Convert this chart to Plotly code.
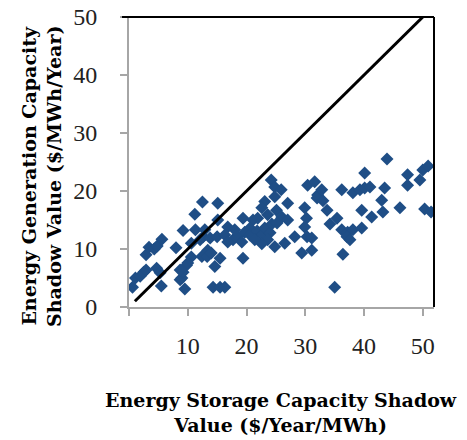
import plotly.graph_objects as go

# Energy Storage Capacity Shadow Value ($/Year/MWh)
storage_value = [
    0.6, 1.1, 1.9, 2.5, 2.9, 2.9, 3.4, 4.3, 4.8, 5.6, 4.7, 5.3, 5.5, 8.0, 9.2,
    11.2, 12.5, 9.5, 8.7, 9.0, 9.2, 9.8, 10.6, 10.6, 11.3, 12.1, 12.4, 10.0, 8.7,
    12.9, 13.4, 13.3, 14.6, 15.5, 15.1, 15.1, 16.8, 14.3, 15.5, 16.3, 14.0,
    19.4, 21.1, 20.6, 19.4, 24.2, 24.8, 23.1, 22.6, 23.6, 21.9, 25.1, 24.8,
    12.6, 13.8, 15.0, 16.3, 17.7, 18.5, 19.7, 20.6, 21.8, 22.6, 23.1, 24.0,
    18.0, 19.2, 16.8, 23.6, 24.3, 22.6, 21.4,
    25.9, 24.8, 27.0, 29.9, 30.2, 26.0, 27.0, 25.2, 29.9, 28.2, 30.3, 31.1,
    26.5, 29.4, 31.1, 30.4, 31.6, 32.1, 32.8, 32.0, 33.0, 33.7, 36.2, 38.1,
    34.2, 35.4, 36.2, 37.2, 38.1, 36.4, 35.0,
    43.9, 40.1, 39.3, 40.1, 41.0, 43.5, 43.0, 39.6, 41.3, 43.2, 46.1, 47.4,
    47.4, 49.5, 50.0, 50.9, 50.3, 51.4, 39.6, 37.1, 37.6,
]
# Energy Generation Capacity Shadow Value ($/MWh/Year)
generation_value = [
    3.4, 5.0, 5.3, 6.0, 6.4, 9.0, 10.3, 10.0, 10.5, 11.7, 6.7, 5.9, 3.6, 10.2, 13.2,
    16.0, 18.1, 3.1, 4.7, 5.0, 6.0, 7.2, 11.0, 8.6, 13.3, 11.6, 8.7, 7.6, 6.4,
    13.3, 9.8, 8.7, 7.0, 8.4, 15.0, 17.9, 13.8, 3.4, 3.4, 3.4, 9.3,
    15.3, 15.0, 13.6, 8.4, 21.9, 20.7, 18.2, 17.1, 15.9, 15.3, 16.7, 10.4,
    12.1, 11.9, 12.1, 12.4, 11.6, 12.2, 12.9, 12.4, 13.1, 12.4, 13.6, 12.8,
    13.3, 11.2, 11.2, 11.6, 14.3, 10.9, 11.6,
    20.2, 19.0, 17.9, 17.1, 15.3, 15.5, 15.0, 14.5, 13.8, 12.1, 12.1, 11.9,
    11.0, 9.3, 9.8, 21.0, 21.6, 19.3, 20.2, 18.8, 18.3, 16.7, 20.2, 19.7,
    14.3, 15.3, 13.3, 12.9, 13.3, 9.1, 3.4,
    25.5, 23.1, 20.2, 20.5, 20.7, 20.5, 18.4, 16.7, 15.5, 16.4, 17.1, 22.8,
    21.0, 21.9, 23.6, 24.3, 16.9, 16.4, 13.6, 12.1, 11.6,
]
# Reference line (x = y)
line_x = [1, 50]
line_y = [1, 50]

x_ticks = [0, 10, 20, 30, 40, 50]
x_ticktext = ["", "10", "20", "30", "40", "50"]
y_ticks = [0, 10, 20, 30, 40, 50]

W, H = 467, 440
ML, MR, MT, MB = 129, 33, 17, 133
PW = W - ML - MR
PH = H - MT - MB

fig = go.Figure()
fig.add_trace(go.Scatter(
    x=storage_value, y=generation_value, mode="markers",
    marker=dict(symbol="diamond", size=10, color="#1F4E86",
                line=dict(width=0)),
    showlegend=False, hoverinfo="x+y",
))
fig.add_trace(go.Scatter(
    x=line_x, y=line_y, mode="lines",
    line=dict(color="black", width=3), showlegend=False,
))

tick_font = dict(family="Liberation Serif", size=24, color="#222222")
fig.update_xaxes(
    range=[0, 51.9], tickvals=x_ticks, ticktext=x_ticktext, automargin=False,
    showgrid=False, zeroline=False, showline=True, linecolor="#A6A6A6",
    linewidth=2, ticks="outside", ticklen=7, tickwidth=2, tickcolor="#A6A6A6",
    tickfont=tick_font, ticklabelstandoff=9,
)
fig.update_yaxes(
    range=[0, 50], tickvals=y_ticks, automargin=False,
    showgrid=False, zeroline=False, showline=True, linecolor="#A6A6A6",
    linewidth=2, ticks="outside", ticklen=7, tickwidth=2, tickcolor="#A6A6A6",
    tickfont=tick_font, ticklabelstandoff=18,
)

title_font = dict(family="DejaVu Serif", size=19, color="black")
fig.update_layout(
    width=W, height=H,
    margin=dict(l=ML, r=MR, t=MT, b=MB, autoexpand=False),
    paper_bgcolor="white", plot_bgcolor="white",
    shapes=[
        dict(type="line", xref="paper", yref="paper", x0=-7 / PW, x1=1, y0=1, y1=1,
             line=dict(color="black", width=2)),
        dict(type="line", xref="paper", yref="paper", x0=1, x1=1, y0=0, y1=1,
             line=dict(color="black", width=2)),
    ],
    annotations=[
        dict(text="<b>Energy Storage Capacity Shadow<br>Value ($/Year/MWh)</b>",
             xref="paper", yref="paper",
             x=(281 - ML) / PW, y=-(412 - MT - PH) / PH,
             xanchor="center", yanchor="middle", showarrow=False,
             font=title_font),
        dict(text="<b>Energy Generation Capacity<br>Shadow Value ($/MWh/Year)</b>",
             xref="paper", yref="paper",
             x=(41 - ML) / PW, y=1 - (177 - MT) / PH,
             xanchor="center", yanchor="middle", showarrow=False,
             textangle=-90, font=title_font),
    ],
)

fig.write_html("out.html", config={"displayModeBar": False})
with open("out.html", encoding="utf-8") as f:
    html = f.read()
html = html.replace("<body>", '<body style="margin:0;padding:0;">', 1)
with open("out.html", "w", encoding="utf-8") as f:
    f.write(html)
